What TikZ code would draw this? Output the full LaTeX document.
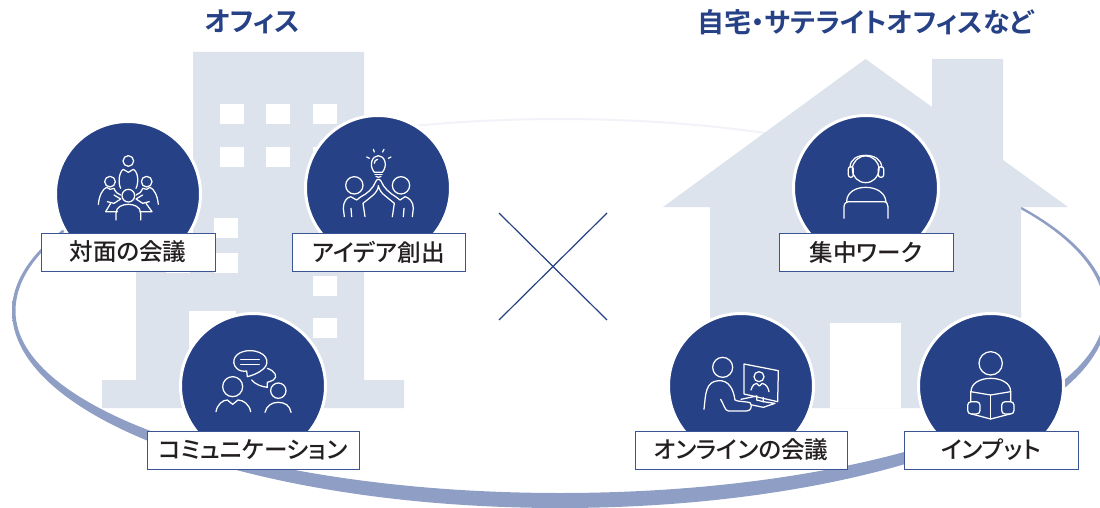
\documentclass[tikz,border=0pt]{standalone}
\usepackage{fontspec}
\newfontfamily\jp[BoldFont={Noto Sans CJK JP Bold},RawFeature=+palt]{Noto Sans CJK JP Medium}
\definecolor{navy}{HTML}{264185}
\definecolor{edge}{HTML}{3A5595}
\definecolor{pale}{HTML}{DCE3EC}
\definecolor{ringc}{HTML}{8F9EC5}
\definecolor{ringp}{HTML}{F1F3F8}
\definecolor{ink}{HTML}{231F20}
\pgfdeclareverticalshading{ringshade}{100bp}{color(0bp)=(ringc); color(64.5bp)=(ringc); color(72.8bp)=(ringp); color(100bp)=(ringp)}
\tikzset{
  disc/.style={circle,fill=navy,draw=white,line width=3pt,minimum size=145pt,inner sep=0pt},
  tag/.style={rectangle,fill=white,draw=edge,line width=1pt,inner sep=0pt,minimum height=38pt,text=ink,font=\jp\fontsize{23.6}{28}\selectfont},
  heading/.style={text=navy,font=\jp\bfseries\fontsize{27}{32}\selectfont,inner sep=0pt},
  glyph/.style={draw=white,line width=1.25pt,line join=round,line cap=round},
  mass/.style={fill=pale,draw=none},
  gap/.style={fill=white,draw=none},
  cross/.style={draw=navy,line width=1.2pt}
}
\begin{document}
\begin{tikzpicture}[x=1pt,y=-1pt]
\useasboundingbox (0,0) rectangle (1100,508);
% ring
\shade[shading=ringshade,even odd rule]
  (12,311) .. controls (12,204.4) and (257.3,118) .. (560,118) .. controls (862.7,118) and (1108,204.4) .. (1108,311) .. controls (1108,419.8) and (862.7,508) .. (560,508) .. controls (257.3,508) and (12,419.8) .. (12,311) -- cycle
  (15.5,311) .. controls (15.5,205.5) and (259.3,120) .. (560,120) .. controls (860.7,120) and (1104.5,205.5) .. (1104.5,311) .. controls (1104.5,411.5) and (860.7,493) .. (560,493) .. controls (259.3,493) and (15.5,411.5) .. (15.5,311) -- cycle;
% building
\fill[mass] (193,52) -- (364,52) -- (364,380) -- (404,380) -- (404,408) -- (102,408) -- (102,380) -- (136,380) -- (136,250) -- (193,250) -- cycle;
\foreach \wx/\wy in {220/104,266/104,313/104,220/147,266/147,313/147,214/218,214/253,166/253,313/276,313/318}
  \fill[gap] (\wx,\wy) rectangle ++(24,20);
\fill[gap] (189,311) rectangle (236,380);
% house
\fill[mass] (865.5,59) -- (932,107) -- (932,59) -- (1003,59) -- (1003,160) -- (1068,207) -- (1021,207) -- (1021,408) -- (710,408) -- (710,207) -- (663,207) -- cycle;
\fill[gap] (830,323) rectangle (901,408);
% titles
\node[heading] (t1) at (252.5,22) {オフィス};
\node[heading] (t2) at (865.5,22) {自宅・サテライトオフィスなど};
% cross
\coordinate (xa) at (499,213); \coordinate (xb) at (607,320);
\coordinate (xc) at (607,213); \coordinate (xd) at (499,320);
\draw[cross] (xa) -- (xb);
\draw[cross] (xc) -- (xd);
% discs
\node[disc] (d1) at (128,194) {};
\node[disc] (d2) at (378,188) {};
\node[disc] (d3) at (253,386) {};
\node[disc] (d4) at (866,188) {};
\node[disc] (d5) at (741,386) {};
\node[disc] (d6) at (991,386) {};
% icon 1
\begin{scope}[shift={(90,145)},scale=1/3,glyph]
\draw (115,48) circle (16);
\draw (92,130) .. controls (84,115) and (86,82) .. (100,73) -- (115,82) -- (130,73) .. controls (146,82) and (146,115) .. (138,130);
\draw (60,110) circle (16);
\draw (170,110) circle (16);
\draw (115,152) circle (19);
\draw (25,178) .. controls (28,150) and (38,132) .. (50,127) -- (60,133) -- (72,130) .. controls (76,140) and (82,148) .. (92,150);
\draw (205,178) .. controls (202,150) and (192,132) .. (180,127) -- (170,133) -- (158,130) .. controls (154,140) and (148,148) .. (138,150);
\draw (72,150) -- (92,162) -- (72,175) -- (52,170);
\draw (158,150) -- (138,162) -- (158,175) -- (178,170);
\draw (62,175) -- (47,200) -- (82,200);
\draw (168,175) -- (186,200) -- (150,200);
\draw (78,225) -- (78,205) .. controls (78,185) and (98,178) .. (115,178) .. controls (132,178) and (152,185) .. (152,205) -- (152,225);
\end{scope}
% icon 2
\begin{scope}[shift={(335,145)},scale=1/3,glyph]
\draw (118,82) .. controls (100,60) and (112,32) .. (130,32) .. controls (148,32) and (160,60) .. (142,82) -- cycle;
\draw (120,88) -- (141,88);
\draw (123,94) .. controls (127,98) and (134,98) .. (138,94);
\draw (118,55) .. controls (118,48) and (122,44) .. (128,43);
\draw (95,36) -- (103,40);
\draw (115,13) -- (118,21);
\draw (147,13) -- (143,21);
\draw (168,36) -- (160,40);
\draw (58,121) circle (26);
\draw (198,121) circle (26);
\draw (28,215) -- (25,190) .. controls (25,170) and (35,158) .. (47,155) -- (65,165) -- (78,155) .. controls (95,147) and (115,130) .. (122,110) .. controls (125,102) and (132,100) .. (138,108) .. controls (145,128) and (165,145) .. (182,155) -- (195,165) -- (210,155) .. controls (222,158) and (235,170) .. (235,190) -- (232,215);
\draw (90,215) -- (84,175) -- (115,150) .. controls (122,143) and (130,133) .. (130,122) .. controls (132,133) and (140,145) .. (150,152) -- (178,175) -- (172,215);
\draw (50,215) -- (48,190);
\draw (205,215) -- (207,190);
\end{scope}
% icon 3
\begin{scope}[shift={(210,345)},scale=1/3,glyph]
\draw (80,70) .. controls (60,50) and (75,17) .. (120,17) .. controls (165,17) and (185,50) .. (160,72) .. controls (145,85) and (125,92) .. (112,95) -- (110,78) .. controls (100,80) and (88,78) .. (80,70) -- cycle;
\draw (92,43) -- (148,43);
\draw (92,58) -- (148,58);
\draw (172,70) .. controls (195,78) and (205,95) .. (190,105) .. controls (185,108) and (178,110) .. (172,112) -- (172,127) .. controls (155,125) and (135,118) .. (125,105);
\draw (68,125) circle (30);
\draw (18,200) .. controls (22,178) and (38,165) .. (52,165) -- (68,178) -- (84,165) .. controls (100,165) and (118,178) .. (122,200);
\draw (205,137) circle (23);
\draw (165,202) .. controls (170,182) and (185,172) .. (205,172) .. controls (225,172) and (240,182) .. (243,202);
\end{scope}
% icon 4
\begin{scope}[shift={(650,50)},scale=1/3,glyph]
\draw (647,358) circle (40);
\draw (600,352) .. controls (600,328) and (622,316) .. (647,316) .. controls (672,316) and (695,328) .. (695,352);
\draw[rounded corners=2.4pt] (595,350) rectangle (610,382);
\draw[rounded corners=2.4pt] (685,350) rectangle (701,382);
\draw (590,455) .. controls (590,425) and (620,412) .. (647,412) .. controls (675,412) and (705,425) .. (708,455);
\draw (582,505) -- (582,470) .. controls (582,460) and (590,455) .. (595,455) -- (700,455) .. controls (710,455) and (714,462) .. (714,470) -- (714,505);
\end{scope}
% icon 5
\begin{scope}[shift={(695,350)},scale=1/3,glyph]
\draw (83,52) circle (30);
\draw (27,178) .. controls (32,130) and (32,95) .. (70,92) .. controls (100,90) and (115,115) .. (120,150) .. controls (125,155) and (160,155) .. (165,158) .. controls (172,165) and (170,183) .. (155,183) -- (100,183) .. controls (90,183) and (85,160) .. (77,148);
\draw (147,42) -- (250,62) -- (248,155) -- (147,132) -- cycle;
\draw (192,80) circle (15);
\draw (168,120) .. controls (172,105) and (180,100) .. (185,100) -- (193,108) -- (202,100) .. controls (215,103) and (220,115) .. (222,125);
\draw (185,138) -- (185,150) -- (205,155) -- (205,143);
\draw (138,148) -- (185,138);
\draw (205,155) -- (240,160) -- (205,172) -- (172,165);
\end{scope}
% icon 6
\begin{scope}[shift={(950,345)},scale=1/3,glyph]
\draw (122,55) circle (35);
\draw (63,140) .. controls (63,115) and (90,100) .. (122,100) .. controls (155,100) and (182,115) .. (182,140);
\draw (62,170) -- (62,140) -- (122,150) -- (182,140) -- (182,170);
\draw (65,207) -- (122,222) -- (180,207);
\draw (122,150) -- (122,222);
\draw[rounded corners=3.5pt] (53,170) rectangle (90,207);
\draw[rounded corners=3.5pt] (155,170) rectangle (192,207);
\end{scope}
% tags
\node[tag,minimum width=174pt] (l1) at (128,252) {対面の会議};
\node[tag,minimum width=173pt] (l2) at (378.5,252) {アイデア創出};
\node[tag,minimum width=212pt] (l3) at (253,450) {コミュニケーション};
\node[tag,minimum width=174pt] (l4) at (866,252) {集中ワーク};
\node[tag,minimum width=212pt] (l5) at (741,450) {オンラインの会議};
\node[tag,minimum width=174pt] (l6) at (991,450) {インプット};
\end{tikzpicture}
\end{document}
